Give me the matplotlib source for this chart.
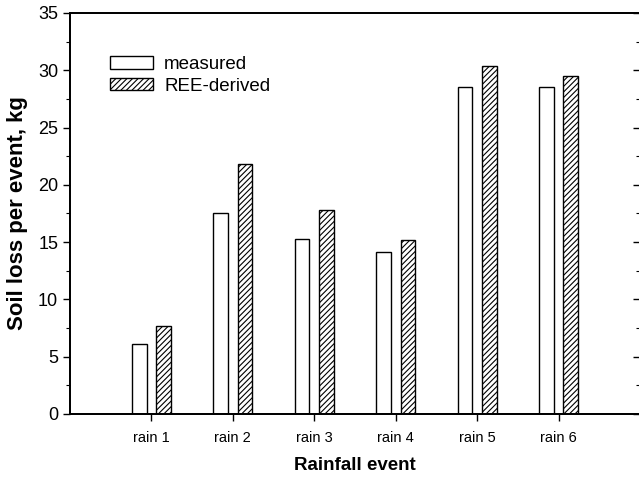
import matplotlib.pyplot as plt
import numpy as np

plt.rcParams['font.family'] = ['Liberation Sans', 'DejaVu Sans']
plt.rcParams['hatch.linewidth'] = 0.8

# Data (kg per event)
events = ["rain 1", "rain 2", "rain 3", "rain 4", "rain 5", "rain 6"]
measured = [6.1, 17.5, 15.3, 14.1, 28.5, 28.5]
ree_derived = [7.7, 21.8, 17.8, 15.2, 30.4, 29.5]

fig = plt.figure(figsize=(6.39, 4.82), dpi=100)
ax = fig.add_axes([70 / 639, 68 / 482, 570 / 639, 401 / 482])

x = np.arange(1, len(events) + 1)
w = 0.18
ax.bar(x - 0.15, measured, w, color='white', edgecolor='black', linewidth=1.0,
       label='measured')
ax.bar(x + 0.15, ree_derived, w, color='white', edgecolor='black', linewidth=1.0,
       hatch='//////', label='REE-derived')

ax.set_xlim(0, 7)
ax.set_ylim(0, 35)
ax.set_xticks(x)
ax.set_xticklabels(events, fontsize=10.5)
ax.set_yticks(np.arange(0, 36, 5))
ax.set_yticks(np.arange(2.5, 35, 5), minor=True)
ax.tick_params(axis='y', which='major', direction='out', length=5, width=1,
               labelsize=13)
ax.tick_params(axis='y', which='minor', direction='out', length=3, width=0.8)
ax.tick_params(axis='x', direction='out', length=5, width=1, pad=7)

# inward ticks on the right side (spine itself sits at the image edge)
ax2 = ax.twinx()
ax2.set_ylim(0, 35)
ax2.set_yticks(np.arange(0, 36, 5))
ax2.set_yticks(np.arange(2.5, 35, 5), minor=True)
ax2.tick_params(axis='y', which='major', direction='in', length=5, width=1,
                labelright=False)
ax2.tick_params(axis='y', which='minor', direction='in', length=3, width=0.8)

for a in (ax, ax2):
    for side in ['left', 'bottom', 'top', 'right']:
        a.spines[side].set_linewidth(1.3)

ax.set_xlabel("Rainfall event", fontsize=13.5, fontweight='bold', labelpad=9)
ax.set_ylabel("Soil loss per event, kg", fontsize=16, fontweight='bold', labelpad=7)

ax.legend(loc='upper left', bbox_to_anchor=(0.04, 0.935), frameon=False,
          fontsize=13.5, handlelength=2.3, handleheight=0.64, handletextpad=0.6,
          labelspacing=0.25)

fig.savefig("out.png", dpi=100)
